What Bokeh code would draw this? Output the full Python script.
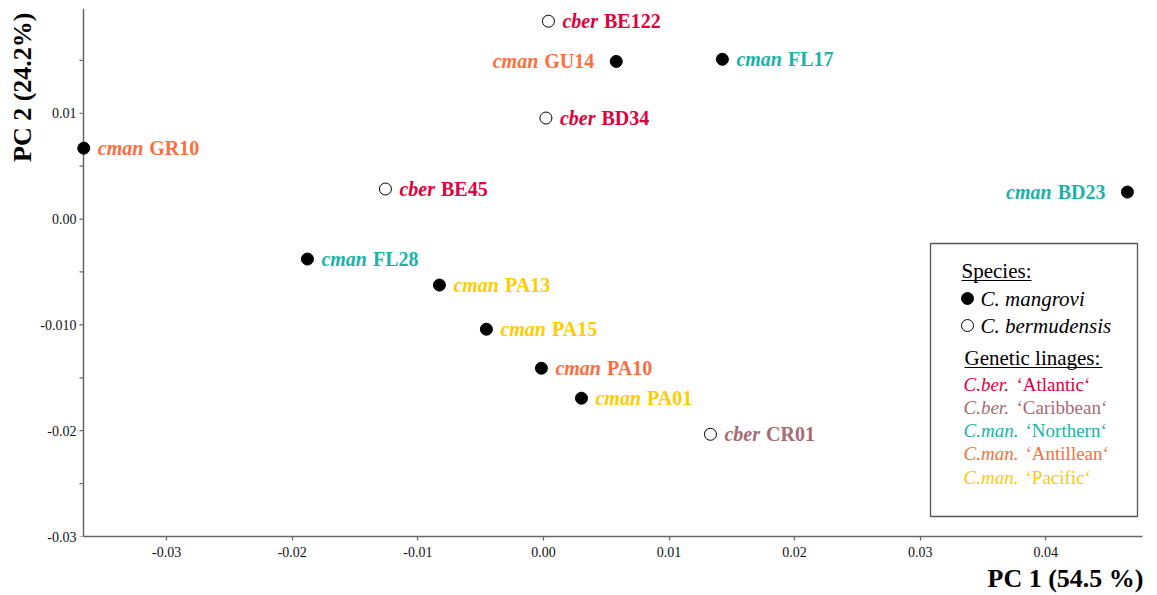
from bokeh.plotting import figure
from bokeh.models import ColumnDataSource, FixedTicker, Title
from bokeh.core.properties import value
from bokeh.embed import file_html
from bokeh.resources import INLINE

# ---- PCA scores -----------------------------------------------------------
samples = ["BE122", "GU14", "FL17", "BD34", "GR10", "BE45", "BD23",
           "FL28", "PA13", "PA15", "PA10", "PA01", "CR01"]
species = ["cber", "cman", "cman", "cber", "cman", "cber", "cman",
           "cman", "cman", "cman", "cman", "cman", "cber"]
lineage = ["Atlantic", "Antillean", "Northern", "Atlantic", "Antillean", "Atlantic", "Northern",
           "Northern", "Pacific", "Pacific", "Antillean", "Pacific", "Caribbean"]
pc1 = [0.0004, 0.0058, 0.01425, 0.0002, -0.0366, -0.01258, 0.0465,
       -0.01879, -0.00828, -0.00454, -0.00016, 0.00303, 0.0133]
pc2 = [0.0187, 0.0149, 0.0151, 0.00955, 0.0067, 0.00284, 0.00255,
       -0.00378, -0.00624, -0.01041, -0.0141, -0.01693, -0.02034]
label_side = ["right", "left", "right", "right", "right", "right", "left",
              "right", "right", "right", "right", "right", "right"]

# ---- axes -----------------------------------------------------------------
x_ticks = [-0.03, -0.02, -0.01, 0.0, 0.01, 0.02, 0.03, 0.04]
x_tick_labels = ["-0.03", "-0.02", "-0.01", "0.00", "0.01", "0.02", "0.03", "0.04"]
y_ticks = [-0.03, -0.02, -0.01, 0.0, 0.01]
y_tick_labels = ["-0.03", "-0.02", "-0.010", "0.00", "0.01"]
y_minor_ticks = [-0.025, -0.015, -0.005, 0.005, 0.015]
x_title = "PC 1 (54.5 %)"
y_title = "PC 2 (24.2%)"

# ---- legend ---------------------------------------------------------------
species_names = ["C. mangrovi", "C. bermudensis"]
species_fill = ["black", "white"]
lineage_names = ["Atlantic", "Caribbean", "Northern", "Antillean", "Pacific"]
lineage_species = ["C.ber.", "C.ber.", "C.man.", "C.man.", "C.man."]

LINEAGE_COLORS = {
    "Atlantic": "#E2003C",
    "Caribbean": "#A86A74",
    "Northern": "#1AB3A8",
    "Antillean": "#FF6E40",
    "Pacific": "#FFCC00",
}
FILL = {"cman": "black", "cber": "white"}

SERIF = "Liberation Serif"
AXIS_GREY = "#666666"

# axis extent; the frame reaches a few pixels further left so that a marker
# sitting on the y axis line is drawn whole
X0, X1 = -0.03662, 0.0477
Y0, Y1 = -0.03, 0.0199
PAD_PX = 7
W, H = 1157, 595
AX_L, FT, FR, FB = 83, 8, 15, 59
FL = AX_L - PAD_PX
FH = H - FT - FB
SCALE_X = (X1 - X0) / (W - AX_L - FR)
XS = X0 - PAD_PX * SCALE_X


def dx(px):
    """canvas pixel column -> data x"""
    return X0 + (px - AX_L) * SCALE_X


def dy(py):
    """canvas pixel row -> data y"""
    return Y1 - (py - FT) / FH * (Y1 - Y0)


# Times metrics (em) for laying out two-part labels
BOLD = {"B": .667, "E": .667, "G": .778, "U": .722, "F": .611, "L": .667, "D": .722,
        "R": .722, "P": .611, "C": .722, "A": .722}
BOLD_ITALIC = {"c": .444, "m": .778, "a": .5, "n": .556, "b": .5, "e": .444, "r": .389}
LABEL_PX = 20


def width(s, table):
    return sum(table.get(ch, .5) for ch in s) * LABEL_PX


p = figure(width=W, height=H, x_range=(XS, X1), y_range=(Y0, Y1),
           output_backend="svg", toolbar_location=None, title=None,
           min_border_left=FL, min_border_right=FR, min_border_top=FT, min_border_bottom=FB)
p.outline_line_color = None
p.grid.visible = False
p.background_fill_color = "white"
p.border_fill_color = "white"

for ax in (p.xaxis[0], p.yaxis[0]):
    ax.major_label_text_font = SERIF
    ax.major_label_text_font_size = "14px"
    ax.major_label_text_color = "#111111"

# x axis: drawn by Bokeh, line limited to the data extent
p.xaxis.axis_line_color = AXIS_GREY
p.xaxis.axis_line_width = 1.5
p.xaxis.major_tick_line_color = AXIS_GREY
p.xaxis.major_tick_line_width = 1.2
p.xaxis.major_tick_in = 0
p.xaxis.major_tick_out = 4
p.xaxis.ticker = FixedTicker(ticks=x_ticks)
p.xaxis.major_label_overrides = dict(zip(x_ticks, x_tick_labels))
p.xaxis.minor_tick_line_color = None
p.xaxis.major_label_standoff = 6
p.xaxis.bounds = (X0, X1)

# y axis: Bokeh supplies the tick labels, the line and ticks are drawn at X0
p.yaxis.ticker = FixedTicker(ticks=y_ticks, minor_ticks=y_minor_ticks)
p.yaxis.major_label_overrides = dict(zip(y_ticks, y_tick_labels))
p.yaxis.axis_line_color = None
p.yaxis.major_tick_line_color = None
p.yaxis.minor_tick_line_color = None
p.yaxis.major_tick_in = 0
p.yaxis.major_tick_out = 0
p.yaxis.minor_tick_in = 0
p.yaxis.minor_tick_out = 0
p.yaxis.major_label_standoff = 0

p.segment(x0=[X0], y0=[Y0], x1=[X0], y1=[Y1], line_color=AXIS_GREY, line_width=1.5)
all_y_ticks = y_ticks + y_minor_ticks
p.segment(x0=[dx(AX_L - 4)] * len(all_y_ticks), y0=all_y_ticks,
          x1=[X0] * len(all_y_ticks), y1=all_y_ticks,
          line_color=AXIS_GREY, line_width=1.2)

# axis titles at the far ends of their axes
p.add_layout(Title(text=x_title, align="right", offset=-1, standoff=5,
                   text_font=SERIF, text_font_size="26px", text_font_style="bold",
                   text_color="black"), "below")
p.add_layout(Title(text=y_title, align="right", offset=4, standoff=2,
                   text_font=SERIF, text_font_size="26px", text_font_style="bold",
                   text_color="black"), "left")

# ---- sample points and labels --------------------------------------------
pre_off, id_off, aligns = [], [], []
for sp, sid, side in zip(species, samples, label_side):
    if side == "right":
        pre_off.append(14)
        id_off.append(14 + width(sp, BOLD_ITALIC) + 6)
        aligns.append("left")
    else:
        id_off.append(-22)
        pre_off.append(-22 - width(sid, BOLD) - 6)
        aligns.append("right")

src = ColumnDataSource(dict(
    x=pc1, y=pc2, sample=samples, species=species,
    color=[LINEAGE_COLORS[l] for l in lineage],
    fill=[FILL[s] for s in species],
    pre_off=pre_off, id_off=id_off, align=aligns,
))

p.scatter("x", "y", source=src, marker="circle", size=12,
          fill_color="fill", line_color="black", line_width=1)
p.text("x", "y", text="species", source=src, x_offset="pre_off", text_align="align",
       text_baseline="middle", text_color="color", text_font=value(SERIF),
       text_font_style="bold italic", text_font_size=f"{LABEL_PX}px")
p.text("x", "y", text="sample", source=src, x_offset="id_off", text_align="align",
       text_baseline="middle", text_color="color", text_font=value(SERIF),
       text_font_style="bold", text_font_size=f"{LABEL_PX}px")

# ---- legend box -----------------------------------------------------------
p.quad(left=[dx(930)], right=[dx(1137)], top=[dy(243)], bottom=[dy(516)],
       fill_color="white", line_color="#555555", line_width=1.3)

p.text(x=[dx(961), dx(964)], y=[dy(270), dy(357)], text=["Species:", "Genetic linages:"],
       text_align="left", text_baseline="middle", text_color="black",
       text_font=value(SERIF), text_font_size="21px")
p.segment(x0=[dx(961), dx(964)], y0=[dy(280), dy(367)],
          x1=[dx(1031), dx(1102)], y1=[dy(280), dy(367)],
          line_color="black", line_width=1.2)

sp_rows = [dy(298), dy(325)]
p.scatter(x=[dx(967)] * 2, y=sp_rows, marker="circle", size=12,
          fill_color=species_fill, line_color="black", line_width=1)
p.text(x=[dx(980)] * 2, y=sp_rows, text=species_names, text_align="left",
       text_baseline="middle", text_color="black", text_font=value(SERIF),
       text_font_style="italic", text_font_size="21px")

lin_rows = [dy(r) for r in (384, 407, 430, 453, 477)]
rest_x = {"C.ber.": dx(1016), "C.man.": dx(1025)}
lin_colors = [LINEAGE_COLORS[n] for n in lineage_names]
p.text(x=[dx(963)] * 5, y=lin_rows, text=lineage_species, text_align="left",
       text_baseline="middle", text_color=lin_colors, text_font=value(SERIF),
       text_font_style="italic", text_font_size="19px")
p.text(x=[rest_x[s] for s in lineage_species], y=lin_rows,
       text=[f"\u2018{n}\u2018" for n in lineage_names], text_align="left",
       text_baseline="middle", text_color=lin_colors, text_font=value(SERIF),
       text_font_size="19px")

open("out.html", "w").write(file_html(p, INLINE))
